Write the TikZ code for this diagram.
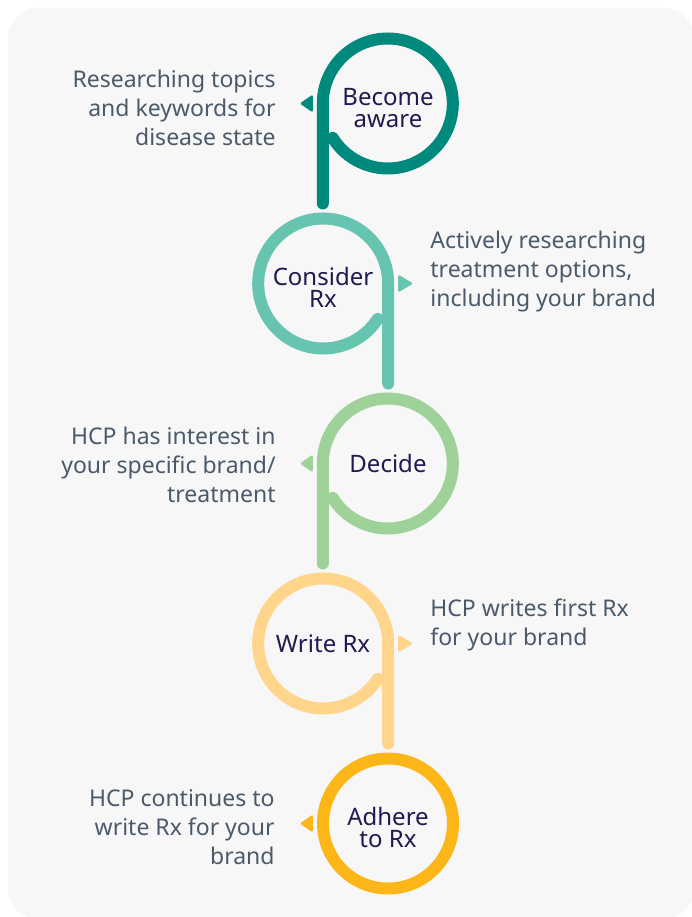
\documentclass[tikz,border=0pt]{standalone}
\usepackage{fontspec}
\setmainfont{Noto Sans}
\usetikzlibrary{positioning}

\definecolor{panel}{HTML}{F7F7F7}
\definecolor{ink}{HTML}{1F1A4F}
\definecolor{slate}{HTML}{4A5A6B}
\definecolor{stageA}{HTML}{00897D}
\definecolor{stageB}{HTML}{67C4B0}
\definecolor{stageC}{HTML}{9ED298}
\definecolor{stageD}{HTML}{FFD58C}
\definecolor{stageE}{HTML}{FDB618}

\tikzstyle{stage} = [circle, minimum size=130pt, inner sep=0pt, align=center, text=ink, font=\fontsize{24}{22}\selectfont]
\tikzstyle{twoline} = [text height=48pt, text depth=0pt]
\tikzstyle{loop} = [line width=12pt, line cap=round]
\tikzstyle{note} = [inner sep=0pt, text=slate, font=\fontsize{23}{29}\selectfont]
\tikzstyle{cue} = [rounded corners=2pt]

\begin{document}
\begin{tikzpicture}[x=1pt, y=1pt, node distance=180pt]

\useasboundingbox (0,0) rectangle (692,-917);
\fill [panel, rounded corners=30pt] (8,-8) rectangle (694,-919);

\node (aware) [stage, twoline] at (388,-103.5) {Become\\aware};
\node (consider) [stage, twoline, below of=aware, xshift=-65pt] {Consider\\Rx};
\node (decide) [stage, below of=consider, xshift=65pt] {Decide};
\node (write) [stage, below of=decide, xshift=-65pt] {Write Rx};
\node (adhere) [stage, twoline, below of=write, xshift=65pt] {Adhere\\to Rx};

% the loops, P and q shapes in turn
\draw [loop, stageA] ([yshift=-100pt]aware.west) -- (aware.west) arc [start angle=180, end angle=-148, radius=65pt];
\draw [loop, stageB] ([yshift=-100pt]consider.east) -- (consider.east) arc [start angle=0, end angle=327, radius=65pt];
\draw [loop, stageC] ([yshift=-100pt]decide.west) -- (decide.west) arc [start angle=180, end angle=-148, radius=65pt];
\draw [loop, stageD] ([yshift=-100pt]write.east) -- (write.east) arc [start angle=0, end angle=327, radius=65pt];
\draw [loop, stageE] (adhere) circle [radius=65pt];

% small pointers next to each loop
\fill [cue, stageA] ([shift={(-10,9)}]aware.west) -- ++(-13,-9) -- ++(13,-9) -- cycle;
\fill [cue, stageB] ([shift={(10,9)}]consider.east) -- ++(15,-9) -- ++(-15,-9) -- cycle;
\fill [cue, stageC] ([shift={(-10,9)}]decide.west) -- ++(-13,-9) -- ++(13,-9) -- cycle;
\fill [cue, stageD] ([shift={(10,9)}]write.east) -- ++(15,-9) -- ++(-15,-9) -- cycle;
\fill [cue, stageE] ([shift={(-10,9)}]adhere.west) -- ++(-13,-9) -- ++(13,-9) -- cycle;

\node (aware note) [note, align=right, left=47pt of aware.west, yshift=-4pt] {Researching topics\\and keywords for\\disease state};
\node (consider note) [note, align=left, right=42pt of consider.east, yshift=12pt] {Actively researching\\treatment options,\\including your brand};
\node (decide note) [note, align=right, left=47pt of decide.west, yshift=-1pt] {HCP has interest in\\your specific brand/\\treatment};
\node (write note) [note, align=left, right=42pt of write.east, yshift=19pt] {HCP writes first Rx\\for your brand};
\node (adhere note) [note, align=right, left=48pt of adhere.west, yshift=-4pt] {HCP continues to\\write Rx for your\\brand};

\end{tikzpicture}
\end{document}
